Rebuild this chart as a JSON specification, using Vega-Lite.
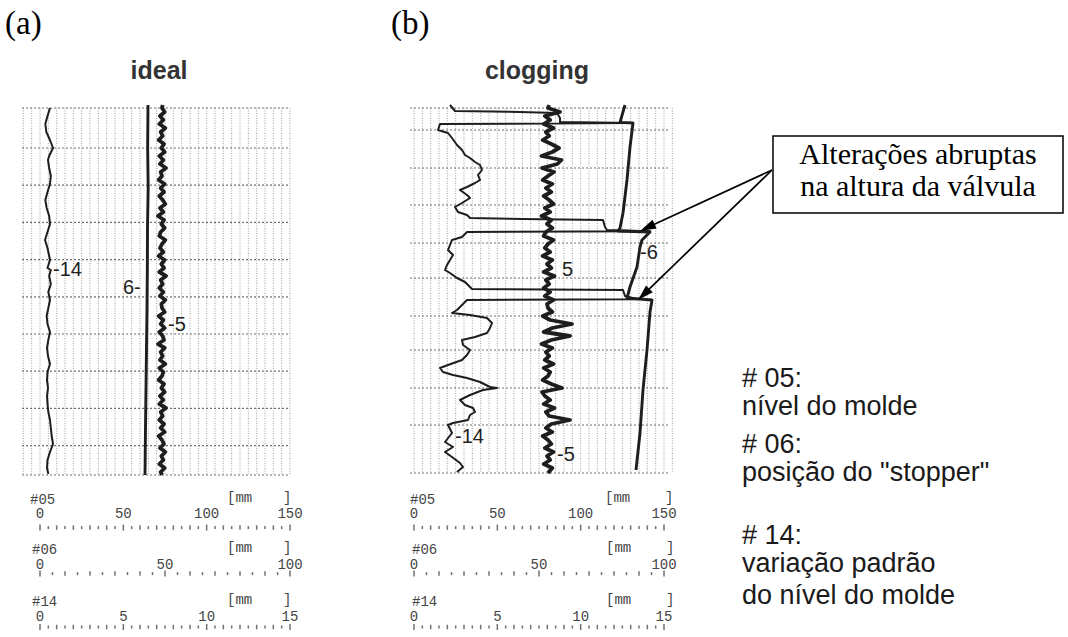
{
  "$schema": "https://vega.github.io/schema/vega-lite/v6.json",
  "background": "white",
  "padding": 0,
  "spacing": 0,
  "config": {"view": {"stroke": null}},
  "datasets": {
    "ticks": [
      {"s":"05","x":0,"y":104.9,"k":"major"},{"s":"05","x":5,"y":104.9,"k":"minor"},{"s":"05","x":10,"y":104.9,"k":"mid"},{"s":"05","x":15,"y":104.9,"k":"minor"},{"s":"05","x":20,"y":104.9,"k":"mid"},{"s":"05","x":25,"y":104.9,"k":"minor"},{"s":"05","x":30,"y":104.9,"k":"mid"},{"s":"05","x":35,"y":104.9,"k":"minor"},{"s":"05","x":40,"y":104.9,"k":"mid"},{"s":"05","x":45,"y":104.9,"k":"minor"},{"s":"05","x":50,"y":104.9,"k":"major"},{"s":"05","x":55,"y":104.9,"k":"minor"},{"s":"05","x":60,"y":104.9,"k":"mid"},{"s":"05","x":65,"y":104.9,"k":"minor"},{"s":"05","x":70,"y":104.9,"k":"mid"},{"s":"05","x":75,"y":104.9,"k":"minor"},{"s":"05","x":80,"y":104.9,"k":"mid"},{"s":"05","x":85,"y":104.9,"k":"minor"},{"s":"05","x":90,"y":104.9,"k":"mid"},{"s":"05","x":95,"y":104.9,"k":"minor"},{"s":"05","x":100,"y":104.9,"k":"major"},{"s":"05","x":105,"y":104.9,"k":"minor"},{"s":"05","x":110,"y":104.9,"k":"mid"},{"s":"05","x":115,"y":104.9,"k":"minor"},{"s":"05","x":120,"y":104.9,"k":"mid"},{"s":"05","x":125,"y":104.9,"k":"minor"},{"s":"05","x":130,"y":104.9,"k":"mid"},{"s":"05","x":135,"y":104.9,"k":"minor"},{"s":"05","x":140,"y":104.9,"k":"mid"},{"s":"05","x":145,"y":104.9,"k":"minor"},{"s":"05","x":150,"y":104.9,"k":"major"},
      {"s":"06","x":0,"y":116.4,"k":"major"},{"s":"06","x":7.5,"y":116.4,"k":"minor"},{"s":"06","x":15,"y":116.4,"k":"mid"},{"s":"06","x":22.5,"y":116.4,"k":"minor"},{"s":"06","x":30,"y":116.4,"k":"mid"},{"s":"06","x":37.5,"y":116.4,"k":"minor"},{"s":"06","x":45,"y":116.4,"k":"mid"},{"s":"06","x":52.5,"y":116.4,"k":"minor"},{"s":"06","x":60,"y":116.4,"k":"mid"},{"s":"06","x":67.5,"y":116.4,"k":"minor"},{"s":"06","x":75,"y":116.4,"k":"major"},{"s":"06","x":82.5,"y":116.4,"k":"minor"},{"s":"06","x":90,"y":116.4,"k":"mid"},{"s":"06","x":97.5,"y":116.4,"k":"minor"},{"s":"06","x":105,"y":116.4,"k":"mid"},{"s":"06","x":112.5,"y":116.4,"k":"minor"},{"s":"06","x":120,"y":116.4,"k":"mid"},{"s":"06","x":127.5,"y":116.4,"k":"minor"},{"s":"06","x":135,"y":116.4,"k":"mid"},{"s":"06","x":142.5,"y":116.4,"k":"minor"},{"s":"06","x":150,"y":116.4,"k":"major"},
      {"s":"14","x":0,"y":129.75,"k":"major"},{"s":"14","x":5,"y":129.75,"k":"minor"},{"s":"14","x":10,"y":129.75,"k":"mid"},{"s":"14","x":15,"y":129.75,"k":"minor"},{"s":"14","x":20,"y":129.75,"k":"mid"},{"s":"14","x":25,"y":129.75,"k":"minor"},{"s":"14","x":30,"y":129.75,"k":"mid"},{"s":"14","x":35,"y":129.75,"k":"minor"},{"s":"14","x":40,"y":129.75,"k":"mid"},{"s":"14","x":45,"y":129.75,"k":"minor"},{"s":"14","x":50,"y":129.75,"k":"major"},{"s":"14","x":55,"y":129.75,"k":"minor"},{"s":"14","x":60,"y":129.75,"k":"mid"},{"s":"14","x":65,"y":129.75,"k":"minor"},{"s":"14","x":70,"y":129.75,"k":"mid"},{"s":"14","x":75,"y":129.75,"k":"minor"},{"s":"14","x":80,"y":129.75,"k":"mid"},{"s":"14","x":85,"y":129.75,"k":"minor"},{"s":"14","x":90,"y":129.75,"k":"mid"},{"s":"14","x":95,"y":129.75,"k":"minor"},{"s":"14","x":100,"y":129.75,"k":"major"},{"s":"14","x":105,"y":129.75,"k":"minor"},{"s":"14","x":110,"y":129.75,"k":"mid"},{"s":"14","x":115,"y":129.75,"k":"minor"},{"s":"14","x":120,"y":129.75,"k":"mid"},{"s":"14","x":125,"y":129.75,"k":"minor"},{"s":"14","x":130,"y":129.75,"k":"mid"},{"s":"14","x":135,"y":129.75,"k":"minor"},{"s":"14","x":140,"y":129.75,"k":"mid"},{"s":"14","x":145,"y":129.75,"k":"minor"},{"s":"14","x":150,"y":129.75,"k":"major"}
    ],
    "scaleLabels": [
      {"x":0,"y":101.5,"text":"0"},{"x":50,"y":101.5,"text":"50"},{"x":100,"y":101.5,"text":"100"},{"x":150,"y":101.5,"text":"150"},
      {"x":0,"y":114.25,"text":"0"},{"x":75,"y":114.25,"text":"50"},{"x":150,"y":114.25,"text":"100"},
      {"x":0,"y":127.25,"text":"0"},{"x":50,"y":127.25,"text":"5"},{"x":100,"y":127.25,"text":"10"},{"x":150,"y":127.25,"text":"15"}
    ],
    "gridVA": [{"x":-10,"y":0,"y2":91.75},{"x":-5,"y":0,"y2":91.75},{"x":0,"y":0,"y2":91.75},{"x":5,"y":0,"y2":91.75},{"x":10,"y":0,"y2":91.75},{"x":15,"y":0,"y2":91.75},{"x":20,"y":0,"y2":91.75},{"x":25,"y":0,"y2":91.75},{"x":30,"y":0,"y2":91.75},{"x":35,"y":0,"y2":91.75},{"x":40,"y":0,"y2":91.75},{"x":45,"y":0,"y2":91.75},{"x":50,"y":0,"y2":91.75},{"x":55,"y":0,"y2":91.75},{"x":60,"y":0,"y2":91.75},{"x":65,"y":0,"y2":91.75},{"x":70,"y":0,"y2":91.75},{"x":75,"y":0,"y2":91.75},{"x":80,"y":0,"y2":91.75},{"x":85,"y":0,"y2":91.75},{"x":90,"y":0,"y2":91.75},{"x":95,"y":0,"y2":91.75},{"x":100,"y":0,"y2":91.75},{"x":105,"y":0,"y2":91.75},{"x":110,"y":0,"y2":91.75},{"x":115,"y":0,"y2":91.75},{"x":120,"y":0,"y2":91.75},{"x":125,"y":0,"y2":91.75},{"x":130,"y":0,"y2":91.75},{"x":135,"y":0,"y2":91.75},{"x":140,"y":0,"y2":91.75},{"x":145,"y":0,"y2":91.75},{"x":150,"y":0,"y2":91.75}],
    "gridHA": [{"y":0,"x":-10.8,"x2":150},{"y":10,"x":-10.8,"x2":150},{"y":19.3,"x":-10.8,"x2":150},{"y":28.6,"x":-10.8,"x2":150},{"y":37.9,"x":-10.8,"x2":150},{"y":47.2,"x":-10.8,"x2":150},{"y":56.5,"x":-10.8,"x2":150},{"y":65.8,"x":-10.8,"x2":150},{"y":75.1,"x":-10.8,"x2":150},{"y":84.4,"x":-10.8,"x2":150},{"y":91.75,"x":-10.8,"x2":150}],
    "gridVB": [{"x":0,"y":0,"y2":91.25},{"x":5,"y":0,"y2":91.25},{"x":10,"y":0,"y2":91.25},{"x":15,"y":0,"y2":91.25},{"x":20,"y":0,"y2":91.25},{"x":25,"y":0,"y2":91.25},{"x":30,"y":0,"y2":91.25},{"x":35,"y":0,"y2":91.25},{"x":40,"y":0,"y2":91.25},{"x":45,"y":0,"y2":91.25},{"x":50,"y":0,"y2":91.25},{"x":55,"y":0,"y2":91.25},{"x":60,"y":0,"y2":91.25},{"x":65,"y":0,"y2":91.25},{"x":70,"y":0,"y2":91.25},{"x":75,"y":0,"y2":91.25},{"x":80,"y":0,"y2":91.25},{"x":85,"y":0,"y2":91.25},{"x":90,"y":0,"y2":91.25},{"x":95,"y":0,"y2":91.25},{"x":100,"y":0,"y2":91.25},{"x":105,"y":0,"y2":91.25},{"x":110,"y":0,"y2":91.25},{"x":115,"y":0,"y2":91.25},{"x":120,"y":0,"y2":91.25},{"x":125,"y":0,"y2":91.25},{"x":130,"y":0,"y2":91.25},{"x":135,"y":0,"y2":91.25},{"x":140,"y":0,"y2":91.25},{"x":145,"y":0,"y2":91.25},{"x":150,"y":0,"y2":91.25},{"x":155,"y":0,"y2":91.25}],
    "gridHB": [{"y":0,"x":-2.4,"x2":153.6},{"y":5.5,"x":-2.4,"x2":153.6},{"y":15,"x":-2.4,"x2":153.6},{"y":24.25,"x":-2.4,"x2":153.6},{"y":33.75,"x":-2.4,"x2":153.6},{"y":42.5,"x":-2.4,"x2":153.6},{"y":52,"x":-2.4,"x2":153.6},{"y":60.5,"x":-2.4,"x2":153.6},{"y":70,"x":-2.4,"x2":153.6},{"y":79.25,"x":-2.4,"x2":153.6},{"y":91.25,"x":-2.4,"x2":153.6}],
    "traceA": [
      {"s":"14","x":6,"y":0},{"s":"14","x":4.5,"y":2},{"s":"14","x":3.2,"y":4},{"s":"14","x":3.8,"y":6},{"s":"14","x":6,"y":8},{"s":"14","x":7.8,"y":10},{"s":"14","x":5.5,"y":12},{"s":"14","x":4.8,"y":13},{"s":"14","x":5.5,"y":15},{"s":"14","x":6.5,"y":17},{"s":"14","x":6,"y":19},{"s":"14","x":4.5,"y":21},{"s":"14","x":3.2,"y":23},{"s":"14","x":4,"y":25},{"s":"14","x":5.5,"y":27},{"s":"14","x":6,"y":29},{"s":"14","x":4.5,"y":31},{"s":"14","x":3,"y":33},{"s":"14","x":4.5,"y":35},{"s":"14","x":5.5,"y":37},{"s":"14","x":6,"y":38},{"s":"14","x":4.5,"y":40},{"s":"14","x":6.5,"y":40.5},{"s":"14","x":5.5,"y":42},{"s":"14","x":6.5,"y":44},{"s":"14","x":5,"y":46},{"s":"14","x":6,"y":48},{"s":"14","x":5,"y":50},{"s":"14","x":4,"y":52},{"s":"14","x":4.5,"y":54},{"s":"14","x":6,"y":56},{"s":"14","x":5,"y":58},{"s":"14","x":4.2,"y":60},{"s":"14","x":4.8,"y":62},{"s":"14","x":6,"y":64},{"s":"14","x":4.5,"y":66},{"s":"14","x":4.2,"y":68},{"s":"14","x":4.8,"y":70},{"s":"14","x":4.2,"y":72},{"s":"14","x":4.5,"y":74},{"s":"14","x":5,"y":76},{"s":"14","x":6,"y":78},{"s":"14","x":6.5,"y":80},{"s":"14","x":7,"y":82},{"s":"14","x":7.8,"y":84},{"s":"14","x":6,"y":86},{"s":"14","x":4.5,"y":88},{"s":"14","x":4.2,"y":90},{"s":"14","x":5,"y":91.5},
      {"s":"6","x":64.8,"y":-0.75},{"s":"6","x":64.6,"y":10},{"s":"6","x":64.9,"y":20},{"s":"6","x":64.5,"y":30},{"s":"6","x":64.4,"y":40},{"s":"6","x":64.2,"y":50},{"s":"6","x":63.9,"y":60},{"s":"6","x":63.6,"y":70},{"s":"6","x":63.3,"y":80},{"s":"6","x":63,"y":91.75},
      {"s":"5","x":73.6,"y":-0.75},{"s":"5","x":73.2,"y":0},{"s":"5","x":74.8,"y":1},{"s":"5","x":72,"y":2},{"s":"5","x":74,"y":3},{"s":"5","x":71.6,"y":4},{"s":"5","x":75.2,"y":5},{"s":"5","x":72.4,"y":6},{"s":"5","x":73.6,"y":7},{"s":"5","x":71.2,"y":8},{"s":"5","x":74.4,"y":9},{"s":"5","x":72.8,"y":10},{"s":"5","x":74.8,"y":11},{"s":"5","x":71.6,"y":12},{"s":"5","x":74,"y":13},{"s":"5","x":72,"y":14},{"s":"5","x":75.6,"y":15},{"s":"5","x":72.4,"y":16},{"s":"5","x":73.2,"y":17},{"s":"5","x":71.2,"y":18},{"s":"5","x":74.8,"y":19},{"s":"5","x":72.4,"y":20},{"s":"5","x":74.4,"y":21},{"s":"5","x":71.6,"y":22},{"s":"5","x":73.6,"y":23},{"s":"5","x":75.2,"y":24},{"s":"5","x":72,"y":25},{"s":"5","x":74,"y":26},{"s":"5","x":70.8,"y":27},{"s":"5","x":74.4,"y":28},{"s":"5","x":72.8,"y":29},{"s":"5","x":74.8,"y":30},{"s":"5","x":72.4,"y":31},{"s":"5","x":71.6,"y":32},{"s":"5","x":75.2,"y":33},{"s":"5","x":73.2,"y":34},{"s":"5","x":72,"y":35},{"s":"5","x":74,"y":36},{"s":"5","x":71.2,"y":37},{"s":"5","x":74.8,"y":38},{"s":"5","x":72.8,"y":39},{"s":"5","x":74.4,"y":40},{"s":"5","x":71.6,"y":41},{"s":"5","x":75.6,"y":42},{"s":"5","x":72.4,"y":43},{"s":"5","x":73.6,"y":44},{"s":"5","x":71.6,"y":45},{"s":"5","x":74,"y":46},{"s":"5","x":72,"y":47},{"s":"5","x":75.2,"y":48},{"s":"5","x":72.8,"y":49},{"s":"5","x":73.2,"y":50},{"s":"5","x":74.8,"y":51},{"s":"5","x":71.2,"y":52},{"s":"5","x":74,"y":53},{"s":"5","x":72.4,"y":54},{"s":"5","x":74.8,"y":55},{"s":"5","x":71.6,"y":56},{"s":"5","x":73.6,"y":57},{"s":"5","x":74.4,"y":58},{"s":"5","x":70.8,"y":59},{"s":"5","x":74.8,"y":60},{"s":"5","x":72.4,"y":61},{"s":"5","x":73.6,"y":62},{"s":"5","x":72,"y":63},{"s":"5","x":75.2,"y":64},{"s":"5","x":71.6,"y":65},{"s":"5","x":74,"y":66},{"s":"5","x":73.2,"y":67},{"s":"5","x":71.2,"y":68},{"s":"5","x":74.4,"y":69},{"s":"5","x":72.8,"y":70},{"s":"5","x":74.8,"y":71},{"s":"5","x":72,"y":72},{"s":"5","x":74,"y":73},{"s":"5","x":71.6,"y":74},{"s":"5","x":75.6,"y":75},{"s":"5","x":72.4,"y":76},{"s":"5","x":73.6,"y":77},{"s":"5","x":71.6,"y":78},{"s":"5","x":74.4,"y":79},{"s":"5","x":72.4,"y":80},{"s":"5","x":74.8,"y":81},{"s":"5","x":71.2,"y":82},{"s":"5","x":73.2,"y":83},{"s":"5","x":74.4,"y":84},{"s":"5","x":72,"y":85},{"s":"5","x":75.2,"y":86},{"s":"5","x":72.8,"y":87},{"s":"5","x":74,"y":88},{"s":"5","x":71.6,"y":89},{"s":"5","x":74.8,"y":90},{"s":"5","x":72.4,"y":91},{"s":"5","x":73.2,"y":91.75}
    ],
    "traceB": [
      {"s":"14","x":21.6,"y":-0.75},{"s":"14","x":24.6,"y":0.75},{"s":"14","x":63.6,"y":1},{"s":"14","x":85.8,"y":1.25},{"s":"14","x":87.6,"y":2.5},{"s":"14","x":87.6,"y":3.5},{"s":"14","x":131.4,"y":3.75},{"s":"14","x":15.6,"y":4},{"s":"14","x":14.4,"y":5.5},{"s":"14","x":20.4,"y":6.25},{"s":"14","x":22.8,"y":7.5},{"s":"14","x":25.8,"y":9.25},{"s":"14","x":28.8,"y":10.5},{"s":"14","x":30.6,"y":11.75},{"s":"14","x":33.6,"y":12.5},{"s":"14","x":36.6,"y":13.5},{"s":"14","x":39.6,"y":14.25},{"s":"14","x":40.8,"y":15.5},{"s":"14","x":38.4,"y":16.75},{"s":"14","x":39.6,"y":18},{"s":"14","x":36.6,"y":18.75},{"s":"14","x":31.8,"y":19.75},{"s":"14","x":27.6,"y":20.5},{"s":"14","x":31.8,"y":21.75},{"s":"14","x":33.6,"y":22.5},{"s":"14","x":28.8,"y":23.75},{"s":"14","x":24.6,"y":24.75},{"s":"14","x":26.4,"y":26},{"s":"14","x":31.8,"y":26.75},{"s":"14","x":33.6,"y":27.5},{"s":"14","x":65.4,"y":27.75},{"s":"14","x":113.4,"y":28},{"s":"14","x":114.6,"y":29.75},{"s":"14","x":115.8,"y":30.5},{"s":"14","x":141.6,"y":30.8},{"s":"14","x":31.8,"y":31},{"s":"14","x":28.8,"y":32.25},{"s":"14","x":22.8,"y":33},{"s":"14","x":21.6,"y":34.25},{"s":"14","x":20.4,"y":35.5},{"s":"14","x":23.4,"y":36.75},{"s":"14","x":21.6,"y":38},{"s":"14","x":19.8,"y":39.25},{"s":"14","x":18.6,"y":40.5},{"s":"14","x":21.6,"y":41.25},{"s":"14","x":25.8,"y":42.5},{"s":"14","x":30.6,"y":43.5},{"s":"14","x":33.6,"y":44.75},{"s":"14","x":34.8,"y":45.25},{"s":"14","x":125.4,"y":45.5},{"s":"14","x":126.6,"y":47},{"s":"14","x":133.8,"y":47.8},{"s":"14","x":31.8,"y":48},{"s":"14","x":25.8,"y":50.5},{"s":"14","x":22.8,"y":51.25},{"s":"14","x":33.6,"y":51.75},{"s":"14","x":43.8,"y":52.5},{"s":"14","x":46.8,"y":53.75},{"s":"14","x":45.6,"y":55},{"s":"14","x":43.8,"y":56.25},{"s":"14","x":36.6,"y":57.25},{"s":"14","x":28.8,"y":58},{"s":"14","x":29.4,"y":59.25},{"s":"14","x":33.6,"y":60.5},{"s":"14","x":31.8,"y":61.75},{"s":"14","x":28.8,"y":63},{"s":"14","x":20.4,"y":64.25},{"s":"14","x":15.6,"y":65},{"s":"14","x":17.4,"y":66},{"s":"14","x":23.4,"y":66.75},{"s":"14","x":31.8,"y":67.5},{"s":"14","x":39.6,"y":68.5},{"s":"14","x":45.6,"y":69.75},{"s":"14","x":49.8,"y":70},{"s":"14","x":41.4,"y":70.5},{"s":"14","x":33.6,"y":71.75},{"s":"14","x":27.6,"y":73},{"s":"14","x":30.6,"y":74.25},{"s":"14","x":35.4,"y":75},{"s":"14","x":36.6,"y":76},{"s":"14","x":33.6,"y":76.75},{"s":"14","x":32.4,"y":78},{"s":"14","x":23.4,"y":78.75},{"s":"14","x":20.4,"y":79.25},{"s":"14","x":22.8,"y":81.25},{"s":"14","x":18.6,"y":83.5},{"s":"14","x":23.4,"y":84.75},{"s":"14","x":18.6,"y":86},{"s":"14","x":22.8,"y":87.25},{"s":"14","x":27.6,"y":88.75},{"s":"14","x":29.4,"y":89.75},{"s":"14","x":25.8,"y":91},
      {"s":"6","x":126.6,"y":-0.75},{"s":"6","x":123.6,"y":3.6},{"s":"6","x":131.4,"y":3.75},{"s":"6","x":129.6,"y":9.75},{"s":"6","x":127.8,"y":18},{"s":"6","x":125.4,"y":26.25},{"s":"6","x":123.6,"y":30},{"s":"6","x":122.4,"y":30.75},{"s":"6","x":141.6,"y":31},{"s":"6","x":136.8,"y":33},{"s":"6","x":135.6,"y":34.75},{"s":"6","x":133.8,"y":39.75},{"s":"6","x":129.6,"y":44.75},{"s":"6","x":127.8,"y":47.5},{"s":"6","x":142.8,"y":48},{"s":"6","x":141.6,"y":51},{"s":"6","x":139.8,"y":60.5},{"s":"6","x":137.4,"y":70.5},{"s":"6","x":135.6,"y":81.25},{"s":"6","x":133.2,"y":90.5},
      {"s":"5","x":81,"y":-0.75},{"s":"5","x":80.4,"y":0},{"s":"5","x":87.6,"y":1},{"s":"5","x":78.5,"y":2},{"s":"5","x":81.7,"y":3},{"s":"5","x":77.8,"y":4},{"s":"5","x":83.7,"y":5},{"s":"5","x":79.1,"y":6},{"s":"5","x":81.1,"y":7},{"s":"5","x":77.2,"y":8},{"s":"5","x":82.4,"y":9},{"s":"5","x":87,"y":10},{"s":"5","x":83,"y":11},{"s":"5","x":76.5,"y":12},{"s":"5","x":88.5,"y":13},{"s":"5","x":86,"y":14},{"s":"5","x":76.8,"y":15},{"s":"5","x":84,"y":16},{"s":"5","x":80.4,"y":17},{"s":"5","x":77.2,"y":18},{"s":"5","x":83,"y":19},{"s":"5","x":79.1,"y":20},{"s":"5","x":82.4,"y":21},{"s":"5","x":77.8,"y":22},{"s":"5","x":81.1,"y":23},{"s":"5","x":83.7,"y":24},{"s":"5","x":78.5,"y":25},{"s":"5","x":81.7,"y":26},{"s":"5","x":76.5,"y":27},{"s":"5","x":82.4,"y":28},{"s":"5","x":79.8,"y":29},{"s":"5","x":83,"y":30},{"s":"5","x":79.1,"y":31},{"s":"5","x":77.8,"y":32},{"s":"5","x":83.7,"y":33},{"s":"5","x":80.4,"y":34},{"s":"5","x":78.5,"y":35},{"s":"5","x":81.7,"y":36},{"s":"5","x":77.2,"y":37},{"s":"5","x":83,"y":38},{"s":"5","x":79.8,"y":39},{"s":"5","x":82.4,"y":40},{"s":"5","x":77.8,"y":41},{"s":"5","x":84.3,"y":42},{"s":"5","x":79.1,"y":43},{"s":"5","x":81.1,"y":44},{"s":"5","x":77.8,"y":45},{"s":"5","x":81.7,"y":46},{"s":"5","x":78.5,"y":47},{"s":"5","x":83.7,"y":48},{"s":"5","x":79.8,"y":49},{"s":"5","x":80.4,"y":50},{"s":"5","x":83,"y":51},{"s":"5","x":77.2,"y":52},{"s":"5","x":81.7,"y":53},{"s":"5","x":94.8,"y":54},{"s":"5","x":83,"y":55},{"s":"5","x":77.8,"y":56},{"s":"5","x":93.6,"y":57},{"s":"5","x":82.4,"y":58},{"s":"5","x":76.5,"y":59},{"s":"5","x":83,"y":60},{"s":"5","x":79.1,"y":61},{"s":"5","x":81.1,"y":62},{"s":"5","x":78.5,"y":63},{"s":"5","x":83.7,"y":64},{"s":"5","x":77.8,"y":65},{"s":"5","x":81.7,"y":66},{"s":"5","x":80.4,"y":67},{"s":"5","x":77.2,"y":68},{"s":"5","x":82.4,"y":69},{"s":"5","x":88.8,"y":70},{"s":"5","x":76.8,"y":71},{"s":"5","x":78.5,"y":72},{"s":"5","x":81.7,"y":73},{"s":"5","x":77.8,"y":74},{"s":"5","x":84.3,"y":75},{"s":"5","x":79.1,"y":76},{"s":"5","x":81.1,"y":77},{"s":"5","x":93.6,"y":78},{"s":"5","x":82.4,"y":79},{"s":"5","x":79.1,"y":80},{"s":"5","x":83,"y":81},{"s":"5","x":77.2,"y":82},{"s":"5","x":80.4,"y":83},{"s":"5","x":82.4,"y":84},{"s":"5","x":78.5,"y":85},{"s":"5","x":83.7,"y":86},{"s":"5","x":79.8,"y":87},{"s":"5","x":81.7,"y":88},{"s":"5","x":77.8,"y":89},{"s":"5","x":83,"y":90},{"s":"5","x":80.4,"y":91.25}
    ]
  },
  "hconcat": [
    {
      "width": 390,
      "height": 637,
      "encoding": {
        "x": {"field": "x", "type": "quantitative", "scale": {"domain": [-24, 210], "nice": false, "zero": false}, "axis": null},
        "y": {"field": "y", "type": "quantitative", "scale": {"domain": [-27, 132.25], "nice": false, "zero": false, "reverse": true}, "axis": null}
      },
      "layer": [
        {"data": {"name": "gridVA"}, "mark": {"type": "rule", "color": "#a0a0a0", "strokeWidth": 1, "strokeDash": [1, 1.5]}, "encoding": {"y2": {"field": "y2"}}},
        {"data": {"name": "gridHA"}, "mark": {"type": "rule", "color": "#707070", "strokeWidth": 1.2, "strokeDash": [2, 2]}, "encoding": {"x2": {"field": "x2"}}},
        {"data": {"name": "traceA"}, "mark": {"type": "line", "color": "#1e1e1e", "strokeJoin": "round"}, "encoding": {"detail": {"field": "s"}, "order": {"field": "y", "type": "quantitative"}, "strokeWidth": {"field": "s", "type": "nominal", "scale": {"domain": ["5", "6", "14"], "range": [3.8, 2, 1.6]}, "legend": null}}},
        {"data": {"values": [{"x":7.8,"y":40.5,"text":"-14"},{"x":49.8,"y":45,"text":"6-"},{"x":76.8,"y":54.25,"text":"-5"}]}, "mark": {"type": "text", "font": "Liberation Sans", "fontSize": 20, "color": "#222222", "align": "left", "baseline": "middle"}, "encoding": {"text": {"field": "text"}}},
        {"data": {"values": [{"x":-21,"y":-21,"text":"(a)"}]}, "mark": {"type": "text", "font": "Liberation Serif", "fontSize": 33, "color": "#000000", "align": "left", "baseline": "middle"}, "encoding": {"text": {"field": "text"}}},
        {"data": {"values": [{"x":71.4,"y":-7.25,"text":"ideal"}]}, "mark": {"type": "text", "font": "Liberation Sans", "fontSize": 25, "fontWeight": "bold", "color": "#333333", "align": "center", "baseline": "alphabetic"}, "encoding": {"text": {"field": "text"}}},
        {"data": {"name": "ticks"}, "mark": {"type": "tick", "orient": "vertical", "color": "#333333", "thickness": 1.5}, "encoding": {"size": {"field": "k", "type": "nominal", "scale": {"domain": ["minor", "mid", "major"], "range": [3, 6, 9]}, "legend": null}}},
        {"data": {"name": "scaleLabels"}, "mark": {"type": "text", "font": "Liberation Mono", "fontSize": 14, "color": "#444444", "align": "center", "baseline": "middle"}, "encoding": {"text": {"field": "text"}}},
        {"data": {"values": [{"x":-6,"y":98,"text":"#05"},{"x":112.2,"y":97.5,"text":"[mm"},{"x":145.8,"y":97.5,"text":"]"},{"x":-4.8,"y":110.5,"text":"#06"},{"x":112.2,"y":110,"text":"[mm"},{"x":145.8,"y":110,"text":"]"},{"x":-4.8,"y":123.5,"text":"#14"},{"x":112.2,"y":123,"text":"[mm"},{"x":145.8,"y":123,"text":"]"}]}, "mark": {"type": "text", "font": "Liberation Mono", "fontSize": 14, "color": "#444444", "align": "left", "baseline": "middle"}, "encoding": {"text": {"field": "text"}}}
      ]
    },
    {
      "width": 678,
      "height": 637,
      "encoding": {
        "x": {"field": "x", "type": "quantitative", "scale": {"domain": [-14.4, 392.4], "nice": false, "zero": false}, "axis": null},
        "y": {"field": "y", "type": "quantitative", "scale": {"domain": [-27, 132.25], "nice": false, "zero": false, "reverse": true}, "axis": null}
      },
      "layer": [
        {"data": {"name": "gridVB"}, "mark": {"type": "rule", "color": "#a0a0a0", "strokeWidth": 1, "strokeDash": [1, 1.5]}, "encoding": {"y2": {"field": "y2"}}},
        {"data": {"name": "gridHB"}, "mark": {"type": "rule", "color": "#707070", "strokeWidth": 1.2, "strokeDash": [2, 2]}, "encoding": {"x2": {"field": "x2"}}},
        {"data": {"name": "traceB"}, "mark": {"type": "line", "color": "#1e1e1e", "strokeJoin": "round"}, "encoding": {"detail": {"field": "s"}, "order": {"field": "y", "type": "quantitative"}, "strokeWidth": {"field": "s", "type": "nominal", "scale": {"domain": ["5", "6", "14"], "range": [5, 2.4, 1.6]}, "legend": null}}},
        {"data": {"values": [{"x":135.6,"y":36.25,"text":"-6"},{"x":88.8,"y":40.5,"text":"5"},{"x":85.8,"y":86.75,"text":"-5"},{"x":24.6,"y":82.25,"text":"-14"}]}, "mark": {"type": "text", "font": "Liberation Sans", "fontSize": 20, "color": "#222222", "align": "left", "baseline": "middle"}, "encoding": {"text": {"field": "text"}}},
        {"data": {"values": [{"x":-13.8,"y":-21,"text":"(b)"}]}, "mark": {"type": "text", "font": "Liberation Serif", "fontSize": 33, "color": "#000000", "align": "left", "baseline": "middle"}, "encoding": {"text": {"field": "text"}}},
        {"data": {"values": [{"x":73.8,"y":-7.25,"text":"clogging"}]}, "mark": {"type": "text", "font": "Liberation Sans", "fontSize": 25, "fontWeight": "bold", "color": "#333333", "align": "center", "baseline": "alphabetic"}, "encoding": {"text": {"field": "text"}}},
        {"data": {"name": "ticks"}, "mark": {"type": "tick", "orient": "vertical", "color": "#333333", "thickness": 1.5}, "encoding": {"size": {"field": "k", "type": "nominal", "scale": {"domain": ["minor", "mid", "major"], "range": [3, 6, 9]}, "legend": null}}},
        {"data": {"name": "scaleLabels"}, "mark": {"type": "text", "font": "Liberation Mono", "fontSize": 14, "color": "#444444", "align": "center", "baseline": "middle"}, "encoding": {"text": {"field": "text"}}},
        {"data": {"values": [{"x":-2.4,"y":98,"text":"#05"},{"x":114.6,"y":97.5,"text":"[mm"},{"x":150.6,"y":97.5,"text":"]"},{"x":-1.2,"y":110.5,"text":"#06"},{"x":115.2,"y":110,"text":"[mm"},{"x":151.2,"y":110,"text":"]"},{"x":-1.2,"y":123.5,"text":"#14"},{"x":115.2,"y":123,"text":"[mm"},{"x":151.2,"y":123,"text":"]"}]}, "mark": {"type": "text", "font": "Liberation Mono", "fontSize": 14, "color": "#444444", "align": "left", "baseline": "middle"}, "encoding": {"text": {"field": "text"}}},
        {"data": {"values": [{"x":215.4,"x2":389.4,"y":7,"y2":26.25}]}, "mark": {"type": "rect", "fill": "#ffffff", "stroke": "#000000", "strokeWidth": 1.5}, "encoding": {"x2": {"field": "x2"}, "y2": {"field": "y2"}}},
        {"data": {"values": [{"x":302.4,"y":14,"text":"Alterações abruptas"},{"x":302.4,"y":22,"text":"na altura da válvula"}]}, "mark": {"type": "text", "font": "Liberation Serif", "fontSize": 30, "color": "#000000", "align": "center", "baseline": "alphabetic"}, "encoding": {"text": {"field": "text"}}},
        {"data": {"values": [{"x":214.8,"y":15.5,"x2":140.0,"y2":29.9},{"x":214.8,"y":15.5,"x2":137.8,"y2":46.6}]}, "mark": {"type": "rule", "color": "#000000", "strokeWidth": 1.7}, "encoding": {"x2": {"field": "x2"}, "y2": {"field": "y2"}}},
        {"data": {"values": [{"x":140.0,"y":29.9,"a":245},{"x":137.8,"y":46.6,"a":226}]}, "mark": {"type": "point", "shape": "M0,-1L0.6,1L-0.6,1Z", "filled": true, "color": "#000000", "opacity": 1, "size": 256}, "encoding": {"angle": {"field": "a", "type": "quantitative", "scale": null}}},
        {"data": {"values": [{"x":196.8,"y":67.75,"text":"# 05:"},{"x":196.8,"y":74.75,"text":"nível do molde"},{"x":196.8,"y":84.25,"text":"# 06:"},{"x":196.8,"y":91.25,"text":"posição do \"stopper\""},{"x":196.8,"y":107,"text":"# 14:"},{"x":196.8,"y":114,"text":"variação padrão"},{"x":196.8,"y":122,"text":"do nível do molde"}]}, "mark": {"type": "text", "font": "Liberation Sans", "fontSize": 27, "color": "#1a1a1a", "align": "left", "baseline": "middle"}, "encoding": {"text": {"field": "text"}}}
      ]
    }
  ]
}
